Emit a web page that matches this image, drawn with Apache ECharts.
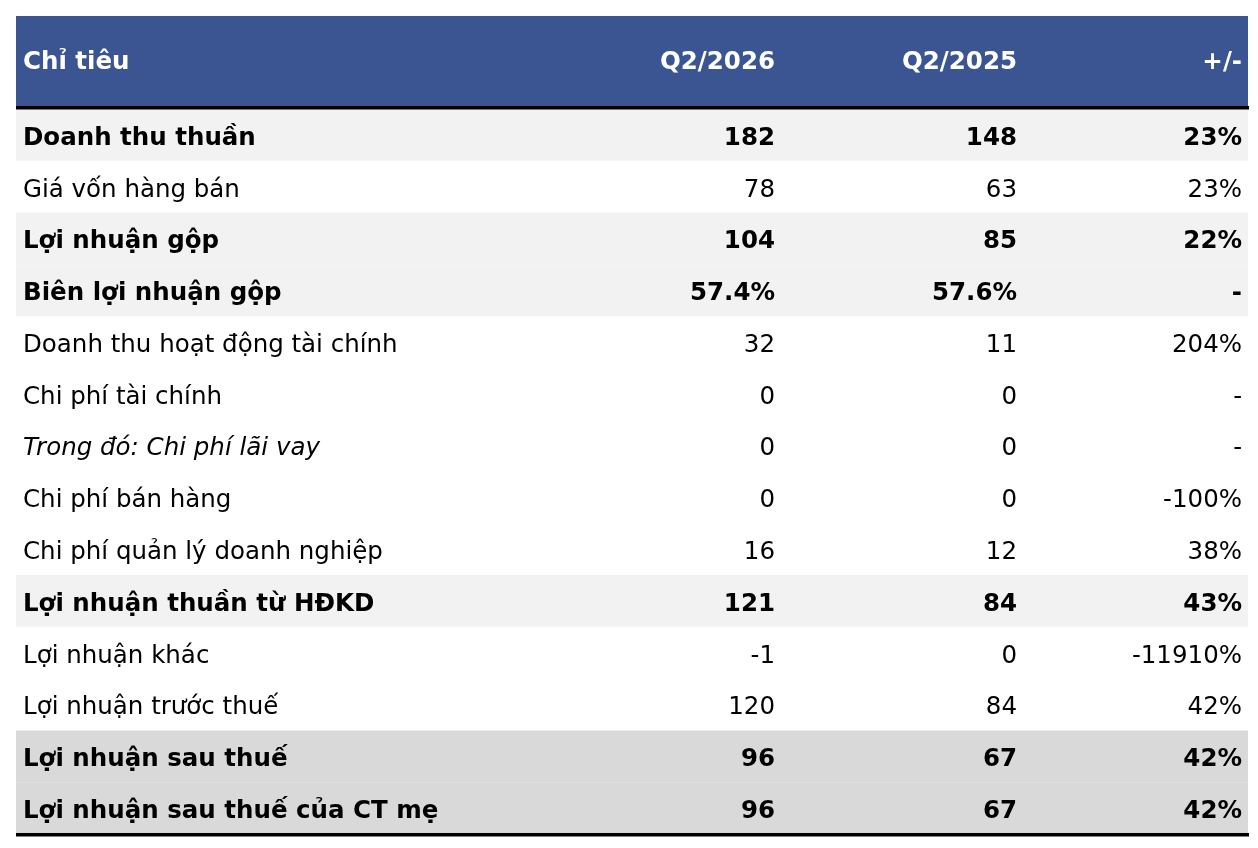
<!DOCTYPE html>
<html>

<head>
    <meta charset="utf-8">
    <script src="https://cdn.jsdelivr.net/npm/echarts@6/dist/echarts.min.js"></script>
    <style>
        * {
            padding: 0;
            margin: 0
        }

        body,
        html {
            height: 100%;
            width: 100%;
            background: #fff
        }

        #container {
            height: 848px;
            width: 1258px
        }
    </style>
</head>

<body>
    <div id="container"></div>
</body>
<script>
    // dữ liệu bảng
    const headers = ['Chỉ tiêu', 'Q2/2026', 'Q2/2025', '+/-'];
    const categories = [
        'Doanh thu thuần',
        'Giá vốn hàng bán',
        'Lợi nhuận gộp',
        'Biên lợi nhuận gộp',
        'Doanh thu hoạt động tài chính',
        'Chi phí tài chính',
        'Trong đó: Chi phí lãi vay',
        'Chi phí bán hàng',
        'Chi phí quản lý doanh nghiệp',
        'Lợi nhuận thuần từ HĐKD',
        'Lợi nhuận khác',
        'Lợi nhuận trước thuế',
        'Lợi nhuận sau thuế',
        'Lợi nhuận sau thuế của CT mẹ'
    ];
    const q2_2026 = [182, 78, 104, 57.4, 32, 0, 0, 0, 16, 121, -1, 120, 96, 96];
    const q2_2025 = [148, 63, 85, 57.6, 11, 0, 0, 0, 12, 84, 0, 84, 67, 67];
    const change = [23, 23, 22, null, 204, null, null, -100, 38, 43, -11910, 42, 42, 42];
    const pctRows = [3];
    const boldRows = [0, 2, 3, 9, 12, 13];
    const italicRows = [6];
    const lightRows = [0, 2, 3, 9];
    const darkRows = [12, 13];

    const FONT = "'DejaVu Sans', sans-serif";
    const FONT_SIZE = 24.5;
    const BLUE = '#3a5592';
    // vị trí cột trên trục x (0..1232 = độ rộng grid)
    const colX = [7, 759, 1001, 1226];

    function fmtValue(v, i) {
        return pctRows.includes(i) ? v.toFixed(1) + '%' : String(v);
    }

    function fmtChange(v) {
        return v === null ? '-' : v + '%';
    }

    const cells = categories.map((c, i) => [fmtValue(q2_2026[i], i), fmtValue(q2_2025[i], i), fmtChange(change[i])]);

    const container = document.getElementById('container');
    let myChart = echarts.init(container, null, { renderer: 'canvas' });

    function renderRow(params, api) {
        const i = params.dataIndex;
        const cs = params.coordSys;
        const h = api.size([0, 1])[1];
        const left = api.coord([colX[0], api.value(1)]);
        const cy = left[1];
        const bold = boldRows.includes(i);
        let fill = null;
        if (lightRows.includes(i)) fill = '#f2f2f2';
        if (darkRows.includes(i)) fill = '#d9d9d9';
        const font = {
            fontFamily: FONT,
            fontSize: FONT_SIZE,
            fontWeight: bold ? 'bold' : 'normal',
            fill: '#000',
            verticalAlign: 'middle'
        };
        const children = [];
        if (fill) {
            children.push({
                type: 'rect',
                shape: { x: cs.x, y: cy - h / 2, width: cs.width, height: h },
                style: { fill: fill }
            });
        }
        children.push({
            type: 'text',
            style: Object.assign({
                x: left[0], y: cy + 3.5, text: categories[i], align: 'left',
                fontStyle: italicRows.includes(i) ? 'italic' : 'normal'
            }, font)
        });
        for (let k = 1; k <= 3; k++) {
            const p = api.coord([colX[k], api.value(1)]);
            children.push({
                type: 'text',
                style: Object.assign({ x: p[0], y: cy + 3.5, text: cells[i][k - 1], align: 'right' }, font)
            });
        }
        return { type: 'group', children: children };
    }

    const headerFont = {
        fontFamily: FONT,
        fontSize: FONT_SIZE,
        fontWeight: 'bold',
        fill: '#fff',
        verticalAlign: 'middle'
    };

    const option = {
        animation: false,
        grid: { left: 16, right: 10, top: 109, bottom: 14 },
        xAxis: { type: 'value', min: 0, max: 1232, show: false },
        yAxis: { type: 'category', data: categories, inverse: true, show: false },
        graphic: [
            {
                type: 'rect',
                shape: { x: 16, y: 16, width: 1232, height: 90 },
                style: { fill: BLUE }
            },
            {
                type: 'text',
                style: Object.assign({ x: 16 + colX[0], y: 63, text: headers[0], align: 'left' }, headerFont)
            },
            {
                type: 'text',
                style: Object.assign({ x: 16 + colX[1], y: 63, text: headers[1], align: 'right' }, headerFont)
            },
            {
                type: 'text',
                style: Object.assign({ x: 16 + colX[2], y: 63, text: headers[2], align: 'right' }, headerFont)
            },
            {
                type: 'text',
                style: Object.assign({ x: 16 + colX[3], y: 63, text: headers[3], align: 'right' }, headerFont)
            },
            {
                type: 'rect',
                z: 10,
                shape: { x: 16, y: 106, width: 1233, height: 3.5 },
                style: { fill: '#000' }
            },
            {
                type: 'rect',
                z: 10,
                shape: { x: 16, y: 833, width: 1233, height: 3.5 },
                style: { fill: '#000' }
            }
        ],
        series: [{
            type: 'custom',
            renderItem: renderRow,
            encode: { x: 0, y: 1 },
            data: categories.map((c, i) => [0, i])
        }]
    };

    myChart.setOption(option);
</script>

</html>
